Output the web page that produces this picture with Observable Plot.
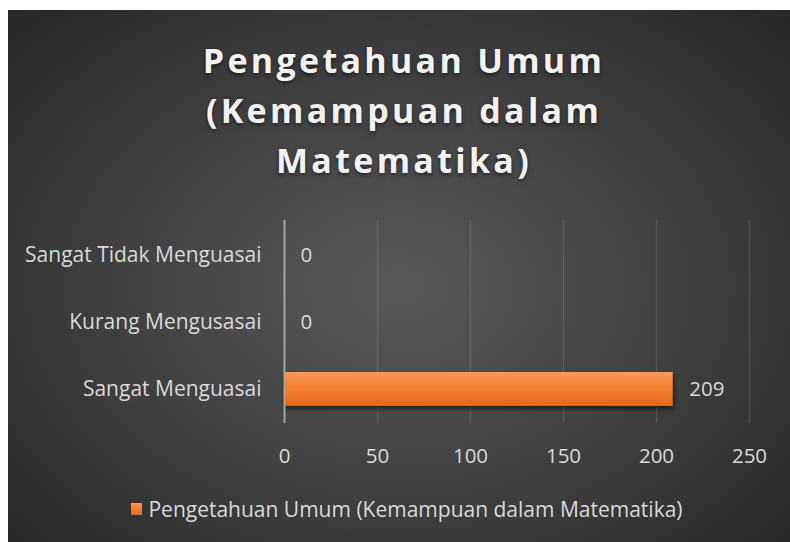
<!DOCTYPE html>
<html>
<head>
<meta charset="utf-8">
<script src="https://cdn.jsdelivr.net/npm/d3@7"></script>
<script src="https://cdn.jsdelivr.net/npm/@observablehq/plot@0.6"></script>
<style>
  html, body { margin: 0; padding: 0; background: #ffffff; }
  #panel {
    position: absolute; left: 8px; top: 10px; width: 782px; height: 532px;
    background: radial-gradient(ellipse 70% 75% at 50% 52%, #5a5a5a 0%, #3c3c3c 60%, #262626 100%);
    overflow: hidden;
    font-family: "Open Sans", sans-serif;
  }
  #title {
    position: absolute; left: 5px; top: 25px; width: 782px; text-align: center;
    font-family: "Open Sans", sans-serif; font-weight: 700; font-size: 34px;
    letter-spacing: 3.3px; line-height: 50px; color: #f2f2f2;
    text-shadow: 0 2px 4px rgba(0,0,0,0.55);
  }
  #chart { position: absolute; left: 0; top: 180px; }
  #legend {
    position: absolute; left: 8px; top: 484px; width: 782px; height: 30px;
    display: flex; justify-content: center; align-items: center;
    font-size: 21px; color: #d9d9d9;
  }
  #legend .sw { width: 11px; height: 12px; margin-right: 6px;
    background: linear-gradient(#f59a62, #f47e2a 50%, #e56a17); }
  .bars rect { filter: drop-shadow(1px 3px 2px rgba(0,0,0,0.55)); }
</style>
</head>
<body>
<div id="panel">
  <div id="title">Pengetahuan Umum<br>(Kemampuan dalam<br>Matematika)</div>
  <div id="chart"></div>
  <div id="legend"><span class="sw"></span><span id="legtext"></span></div>
</div>
<script>
const categories = ["Sangat Tidak Menguasai", "Kurang Mengusasai", "Sangat Menguasai"];
const values = [0, 0, 209];
const xTicks = [0, 50, 100, 150, 200, 250];
const gridTicks = [50, 100, 150, 200, 250];
const seriesName = "Pengetahuan Umum (Kemampuan dalam Matematika)";

const data = categories.map((c, i) => ({category: c, value: values[i]}));
document.getElementById("legtext").textContent = seriesName;

const chart = Plot.plot({
  width: 782,
  height: 280,
  marginLeft: 276,
  marginRight: 41,
  marginTop: 30,
  marginBottom: 47,
  style: {background: "transparent", color: "#d9d9d9", fontFamily: "Open Sans, sans-serif", fontSize: "20.5px"},
  x: {domain: [0, 250], ticks: xTicks},
  y: {domain: categories, paddingInner: 0.5, paddingOuter: 0.25, label: null},
  marks: [
    Plot.ruleX(gridTicks, {stroke: "#ffffff", strokeOpacity: 0.12, strokeWidth: 1.3}),
    Plot.barX(data, {x: "value", y: "category", fill: "url(#barGrad)", className: "bars"}),
    Plot.ruleX([0], {stroke: "#a6a6a6", strokeWidth: 2}),
    Plot.text(data, {x: "value", y: "category", text: d => String(d.value), textAnchor: "start", dx: 16, fill: "#d9d9d9", fontSize: 20.5}),
    Plot.axisX({ticks: xTicks, tickSize: 0, tickPadding: 25, label: null, tickFormat: d => String(d), fontSize: 20.5}),
    Plot.axisY({tickSize: 0, tickPadding: 23, label: null, fontSize: 21})
  ]
});
const ns = "http://www.w3.org/2000/svg";
const defs = document.createElementNS(ns, "defs");
defs.innerHTML = '<linearGradient id="barGrad" x1="0" y1="0" x2="0" y2="1">' +
  '<stop offset="0" stop-color="#f59a62"/><stop offset="0.5" stop-color="#f47e2a"/>' +
  '<stop offset="1" stop-color="#e4661a"/></linearGradient>';
chart.insertBefore(defs, chart.firstChild);
document.getElementById("chart").appendChild(chart);
</script>
</body>
</html>
